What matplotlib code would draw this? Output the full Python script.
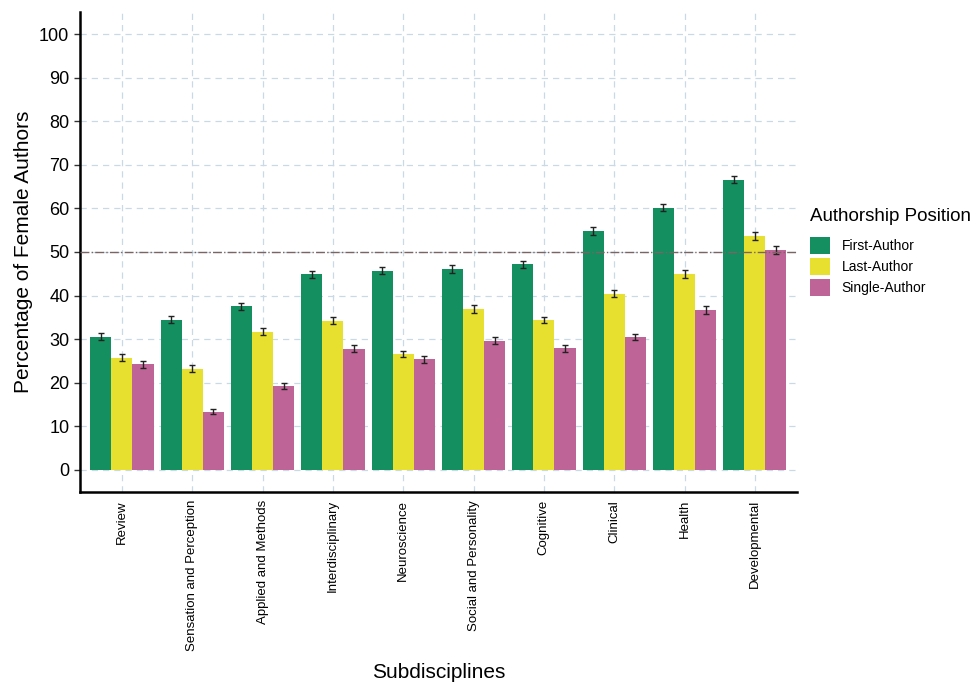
import matplotlib.pyplot as plt
import numpy as np

plt.rcParams['font.family'] = ['Liberation Sans', 'DejaVu Sans']

categories = ["Review", "Sensation and Perception", "Applied and Methods",
              "Interdisciplinary", "Neuroscience", "Social and Personality",
              "Cognitive", "Clinical", "Health", "Developmental"]
series = ["First-Author", "Last-Author", "Single-Author"]
first = [30.6, 34.5, 37.6, 44.9, 45.7, 46.1, 47.2, 54.9, 60.2, 66.6]
last = [25.7, 23.2, 31.7, 34.2, 26.6, 37.0, 34.4, 40.4, 45.0, 53.6]
single = [24.2, 13.4, 19.3, 27.8, 25.4, 29.6, 27.9, 30.5, 36.6, 50.4]
first_err = [0.8, 0.8, 0.8, 0.8, 0.8, 0.9, 0.8, 0.9, 0.8, 0.8]
last_err = [0.8, 0.8, 0.8, 0.8, 0.8, 0.9, 0.8, 0.8, 0.9, 0.9]
single_err = [0.8, 0.6, 0.7, 0.8, 0.8, 0.8, 0.8, 0.8, 0.9, 0.9]
colors = ["#148f5f", "#e8e02e", "#bf6496"]

fig = plt.figure(figsize=(9.72, 6.82), dpi=100)
ax = fig.add_axes([0.082, 0.279, 0.738, 0.703])

x = np.arange(len(categories))
w = 0.3
for i, (vals, errs) in enumerate([(first, first_err), (last, last_err), (single, single_err)]):
    ax.bar(x + (i - 1) * w, vals, w, color=colors[i], label=series[i], zorder=2)
    ax.errorbar(x + (i - 1) * w, vals, yerr=errs, fmt='none', ecolor='#222222',
                elinewidth=1, capsize=2.5, capthick=1, zorder=3)

ax.axhline(50, color='#7a6464', linestyle='-.', linewidth=1, zorder=4)

ax.set_xlim(-0.6, len(categories) - 0.4)
ax.set_ylim(-5, 105)
ax.set_yticks(np.arange(0, 101, 10))
ax.set_xticks(x)
ax.set_xticklabels(categories, rotation=90, fontsize=9.5)
ax.tick_params(axis='y', labelsize=13, length=4, width=1, color='#333333')
ax.tick_params(axis='x', length=0, pad=6)
ax.grid(True, color='#c9d9e6', linestyle=(0, (5, 4)), linewidth=0.9, zorder=0)
ax.set_axisbelow(True)

for s in ['top', 'right']:
    ax.spines[s].set_visible(False)
for s in ['left', 'bottom']:
    ax.spines[s].set_linewidth(1.8)

ax.set_ylabel("Percentage of Female Authors", fontsize=15)
ax.set_xlabel("Subdisciplines", fontsize=15, labelpad=8)

leg = ax.legend(title="Authorship Position", loc='center left', bbox_to_anchor=(1.005, 0.5),
                frameon=False, fontsize=10, title_fontsize=13.5, handlelength=1.45,
                handleheight=1.5, handletextpad=0.8, labelspacing=0.3,
                borderaxespad=0.3)
leg._legend_box.align = "left"
leg._legend_box.sep = 9

fig.savefig("out.png", dpi=100)
